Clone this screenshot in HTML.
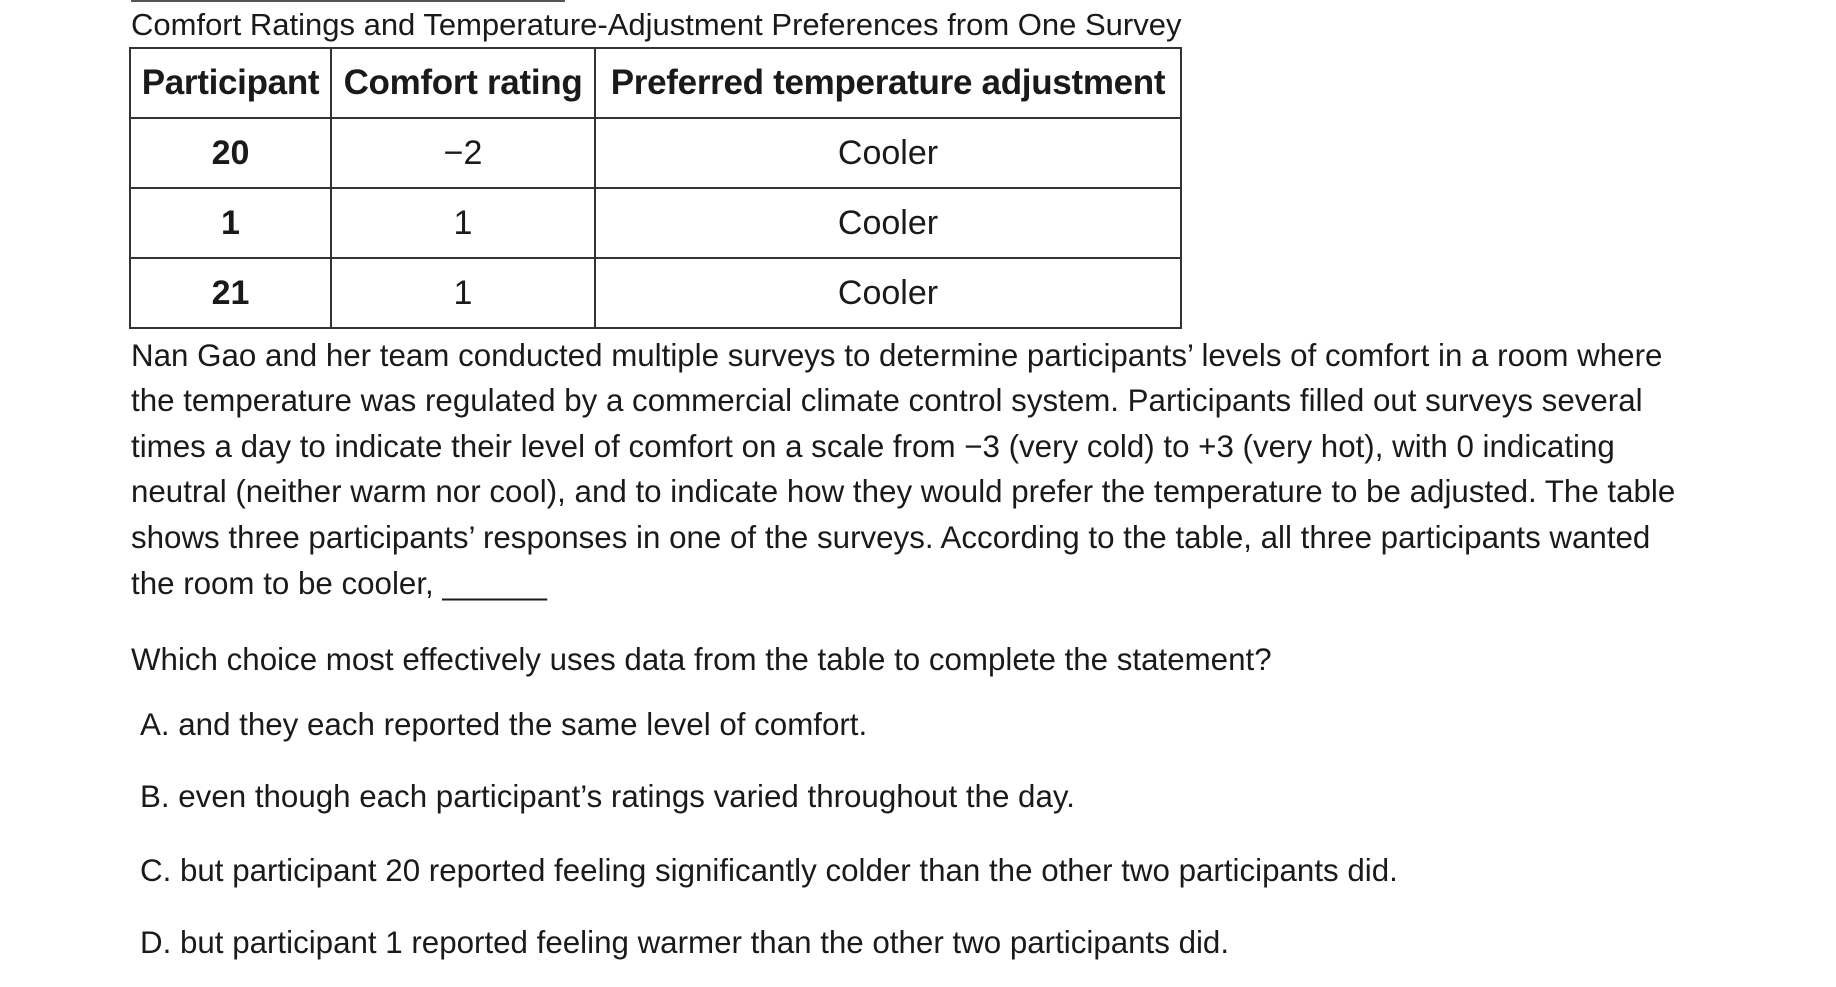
<!DOCTYPE html>
<html><head><meta charset="utf-8"><style>
body{margin:0;width:1836px;height:987px;background:#fff;font-family:"Liberation Sans",sans-serif;color:#1a1a1a;position:relative;overflow:hidden}
.l{position:absolute;white-space:nowrap;font-size:31.3px;left:131px}
table{position:absolute;left:129px;top:47px;border-collapse:collapse;width:1053px}
td,th{border:2px solid #333;text-align:center;padding:0}
th{font-size:35px;font-weight:bold;height:68px;letter-spacing:-0.3px}
td{font-size:34px;height:68px}
td.b{font-weight:bold}
</style></head><body>
<div style="position:absolute;left:131px;top:0;width:434px;height:2px;background:#555"></div>
<div class="l" style="top:7px;font-size:31px">Comfort Ratings and Temperature-Adjustment Preferences from One Survey</div>
<table>
<tr><th style="width:199px">Participant</th><th style="width:262px">Comfort rating</th><th>Preferred temperature adjustment</th></tr>
<tr><td class="b">20</td><td>−2</td><td>Cooler</td></tr>
<tr><td class="b">1</td><td>1</td><td>Cooler</td></tr>
<tr><td class="b">21</td><td>1</td><td>Cooler</td></tr>
</table>
<div>
<div class="l" style="top:338px">Nan Gao and her team conducted multiple surveys to determine participants’ levels of comfort in a room where</div>
<div class="l" style="top:383px">the temperature was regulated by a commercial climate control system. Participants filled out surveys several</div>
<div class="l" style="top:429px">times a day to indicate their level of comfort on a scale from −3 (very cold) to +3 (very hot), with 0 indicating</div>
<div class="l" style="top:474px">neutral (neither warm nor cool), and to indicate how they would prefer the temperature to be adjusted. The table</div>
<div class="l" style="top:520px">shows three participants’ responses in one of the surveys. According to the table, all three participants wanted</div>
<div class="l" style="top:566px">the room to be cooler, ______</div>
</div>
<div class="l" style="top:642px">Which choice most effectively uses data from the table to complete the statement?</div>
<div class="l" style="top:707px;left:140px">A. and they each reported the same level of comfort.</div>
<div class="l" style="top:779px;left:140px">B. even though each participant’s ratings varied throughout the day.</div>
<div class="l" style="top:853px;left:140px">C. but participant 20 reported feeling significantly colder than the other two participants did.</div>
<div class="l" style="top:925px;left:140px">D. but participant 1 reported feeling warmer than the other two participants did.</div>
</body></html>
